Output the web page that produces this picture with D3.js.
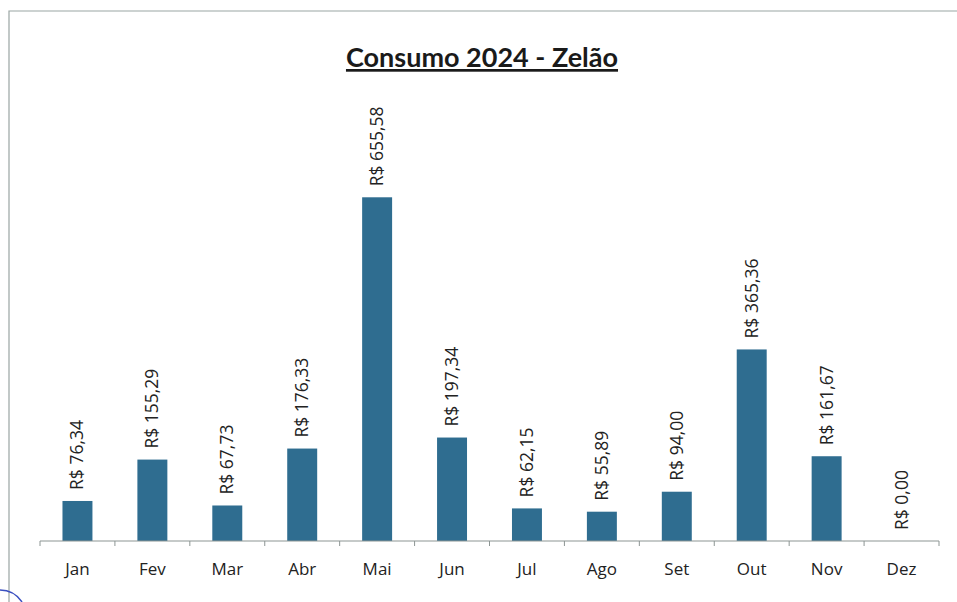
<!DOCTYPE html>
<html>
<head>
<meta charset="utf-8">
<script src="https://cdn.jsdelivr.net/npm/d3@7"></script>
<style>
  body { margin: 0; background: #fff; }
  svg { display: block; }
</style>
</head>
<body>
<svg width="957" height="602"></svg>
<script>
var meses = ["Jan", "Fev", "Mar", "Abr", "Mai", "Jun", "Jul", "Ago", "Set", "Out", "Nov", "Dez"];
var valores = [76.34, 155.29, 67.73, 176.33, 655.58, 197.34, 62.15, 55.89, 94.00, 365.36, 161.67, 0.00];
var titulo = "Consumo 2024 - Zelão";

var fmt = function(v) { return "R$ " + v.toFixed(2).replace(".", ","); };

var svg = d3.select("svg"),
    margin = {top: 174, right: 18, bottom: 61, left: 40},
    width = +svg.attr("width") - margin.left - margin.right,
    height = +svg.attr("height") - margin.top - margin.bottom;

// moldura do gráfico (scan)
svg.append("path")
    .attr("d", "M9,602 L9,11 L957,11")
    .attr("fill", "none")
    .attr("stroke", "#9aa5a3")
    .attr("stroke-width", 1.2);

// marca de caneta no canto
svg.append("path")
    .attr("d", "M0,590 Q14,590 22,602")
    .attr("fill", "none")
    .attr("stroke", "#3a4fc0")
    .attr("stroke-width", 1.5);

svg.append("text")
    .attr("x", 482)
    .attr("y", 67)
    .attr("text-anchor", "middle")
    .attr("font-family", "Lato, 'Open Sans', sans-serif")
    .attr("font-weight", "bold")
    .attr("font-size", 27)
    .attr("fill", "#1a1a1a")
    .attr("text-decoration", "underline")
    .text(titulo);

var g = svg.append("g").attr("transform", "translate(" + margin.left + "," + margin.top + ")");

var x = d3.scaleBand()
    .domain(meses)
    .range([0, width])
    .paddingInner(0.6)
    .paddingOuter(0.3);

var y = d3.scaleLinear()
    .domain([0, 700])
    .range([height, 0]);

g.selectAll(".bar")
  .data(valores)
  .enter().append("rect")
    .attr("class", "bar")
    .attr("x", function(d, i) { return x(meses[i]); })
    .attr("y", function(d) { return y(d); })
    .attr("width", x.bandwidth())
    .attr("height", function(d) { return height - y(d); })
    .attr("fill", "#2f6d90");

g.selectAll(".rotulo")
  .data(valores)
  .enter().append("text")
    .attr("class", "rotulo")
    .attr("transform", function(d, i) {
      return "translate(" + (x(meses[i]) + x.bandwidth() / 2 + 6) + "," + (y(d) - 11) + ") rotate(-90)";
    })
    .attr("font-family", "'Open Sans', sans-serif")
    .attr("font-size", 17.5)
    .attr("fill", "#222")
    .text(function(d) { return fmt(d); });

var eixo = d3.scaleLinear().domain([0, 12]).range([0, width]);

var ax = g.append("g")
    .attr("transform", "translate(0," + height + ")");
ax.append("line")
    .attr("x1", 0).attr("x2", width)
    .attr("stroke", "#8c9593");
ax.selectAll(".tick")
  .data(d3.range(13))
  .enter().append("line")
    .attr("x1", function(d) { return eixo(d); })
    .attr("x2", function(d) { return eixo(d); })
    .attr("y1", 0).attr("y2", 5)
    .attr("stroke", "#8c9593");

ax.selectAll(".mes")
  .data(meses)
  .enter().append("text")
    .attr("x", function(d) { return x(d) + x.bandwidth() / 2; })
    .attr("y", 34)
    .attr("text-anchor", "middle")
    .attr("font-family", "'Open Sans', sans-serif")
    .attr("font-size", 17)
    .attr("fill", "#222")
    .text(function(d) { return d; });
</script>
</body>
</html>
